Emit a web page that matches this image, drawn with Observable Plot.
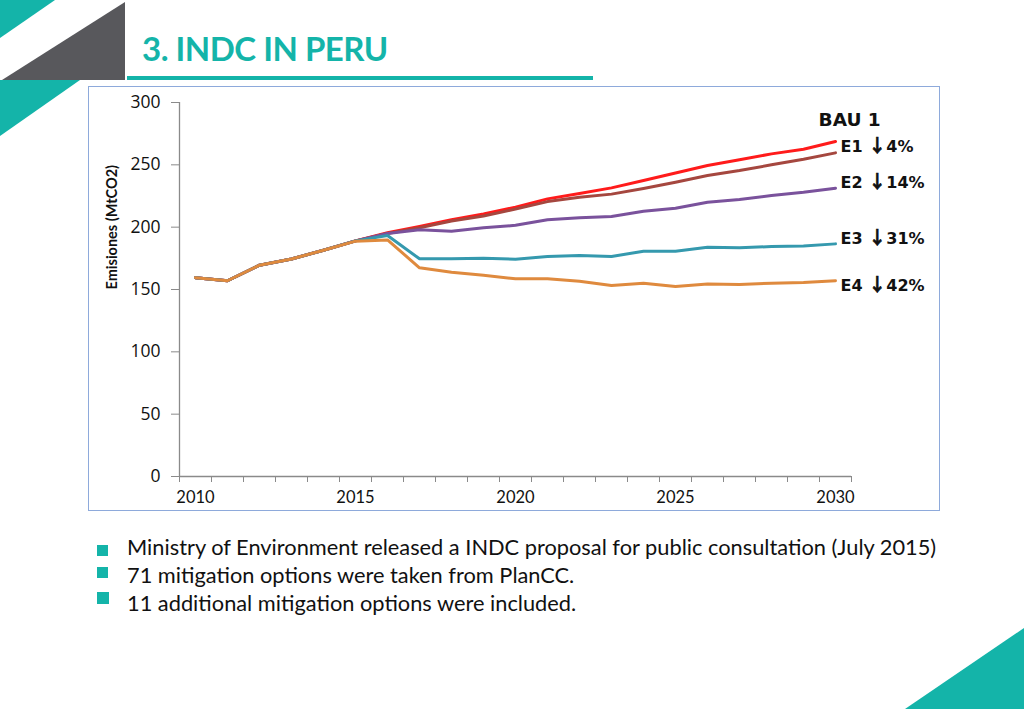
<!DOCTYPE html>
<html>
<head>
<meta charset="utf-8">
<script src="https://cdn.jsdelivr.net/npm/d3@7"></script>
<script src="https://cdn.jsdelivr.net/npm/@observablehq/plot@0.6"></script>
<style>
  html, body { margin: 0; padding: 0; background: #fff; }
  body { width: 1024px; height: 709px; position: relative; overflow: hidden; font-family: Lato, "Open Sans", sans-serif; }
  #deco { position: absolute; left: 0; top: 0; }
  #title { position: absolute; left: 142px; top: 28px; font: 700 33px Lato, sans-serif; color: #14B4A9; letter-spacing: -0.5px; white-space: nowrap; }
  #rule { position: absolute; left: 127px; top: 76px; width: 466px; height: 4px; background: #14B4A9; }
  #chart { position: absolute; left: 88px; top: 86px; width: 850px; height: 423px; border: 1.5px solid #8EAADB; }
  #chart svg { display: block; }
  .bullet { position: absolute; left: 127px; font: 400 21.8px Lato, sans-serif; color: #111; white-space: nowrap; }
  .sq { position: absolute; left: 97px; width: 11px; height: 11px; background: #14B4A9; }
</style>
</head>
<body>
<svg id="deco" width="1024" height="709">
  <polygon points="0,0 55,0 0,38" fill="#14B4A9"/>
  <polygon points="125,2 125,80 2,80" fill="#58585C"/>
  <polygon points="0,80 80,80 0,136" fill="#14B4A9"/>
  <polygon points="905,709 1024,628 1024,709" fill="#14B4A9"/>
</svg>
<div id="title">3. INDC IN PERU</div>
<div id="rule"></div>
<div id="chart"></div>
<div class="sq" style="top:545px"></div>
<div class="bullet" style="top:533px">Ministry of Environment released a INDC proposal for public consultation (July 2015)</div>
<div class="sq" style="top:567px"></div>
<div class="bullet" style="top:561px">71 mitigation options were taken from PlanCC.</div>
<div class="sq" style="top:592px;width:12px;height:12px"></div>
<div class="bullet" style="top:589px">11 additional mitigation options were included.</div>
<script>
const years = [2010,2011,2012,2013,2014,2015,2016,2017,2018,2019,2020,2021,2022,2023,2024,2025,2026,2027,2028,2029,2030];
const bau = [159.5,157,169.5,174.5,181.5,189,195.5,200.5,206,210.5,216,222.7,227,231.5,237.5,243.5,249.5,254,258.8,262.5,268.7];
const e1  = [159.5,157,169.5,174.5,181.5,189,195,199.5,205,209,214.5,220.5,224,226.5,231,236,241.4,245.4,250,254.5,259.6];
const e2  = [159.5,157,169.5,174.5,181.5,189,195,198,196.8,199.5,201.5,205.9,207.5,208.5,212.8,215.2,220,222.2,225.4,228,231.3];
const e3  = [159.5,157,169.5,174.5,181.5,189,193.3,174.6,174.6,175.1,174.3,176.5,177.3,176.5,180.7,180.7,183.9,183.4,184.5,184.8,186.6];
const e4  = [159.5,157,169.5,174.5,181.5,188.8,189.8,167.4,163.9,161.5,158.6,158.6,156.7,153.2,155.1,152.4,154.5,154,155.1,155.6,157];
const seriesNames = ["BAU 1","E1","E2","E3","E4"];
const seriesColors = ["#FF1B1B","#A5473F","#7A529C","#3599AE","#DF8A3E"];
const yTicks = [0,50,100,150,200,250,300];
const xLabelYears = [2010,2015,2020,2025,2030];
const xTickEdges = [2009.5,2010.5,2011.5,2012.5,2013.5,2014.5,2015.5,2016.5,2017.5,2018.5,2019.5,2020.5,2021.5,2022.5,2023.5,2024.5,2025.5,2026.5,2027.5,2028.5,2029.5,2030.5];
const bauLabel = ["BAU 1"];
const bauLabelYear = [2029.47];
const bauLabelValue = [285.6];
const labelTexts = ["E1 ↓4%","E2 ↓14%","E3 ↓31%","E4 ↓42%"];
const labelYears = [2030.16,2030.16,2030.16,2030.16];
const labelValues = [264.7,235.8,190.9,153.2];
const yTitle = "Emisiones (MtCO2)";

const allSeries = [bau, e1, e2, e3, e4];
const rows = [];
allSeries.forEach((vals, i) => vals.forEach((v, j) => rows.push({series: seriesNames[i], year: years[j], value: v})));
const labels = labelTexts.map((t, i) => ({text: t, year: labelYears[i], value: labelValues[i]}));
const bauLabels = bauLabel.map((t, i) => ({text: t, year: bauLabelYear[i], value: bauLabelValue[i]}));

const xDomain = [xTickEdges[0], xTickEdges[xTickEdges.length - 1]];
const yDomain = [yTicks[0], yTicks[yTicks.length - 1]];
const axisGray = "#8a8a8a";

const chart = Plot.plot({
  width: 850,
  height: 423,
  marginLeft: 90,
  marginRight: 88,
  marginTop: 15,
  marginBottom: 34,
  style: {background: "transparent", color: "#111", fontFamily: "'Open Sans', sans-serif"},
  x: {domain: xDomain, label: null},
  y: {domain: yDomain, label: null},
  color: {domain: seriesNames, range: seriesColors},
  marks: [
    Plot.ruleX([xDomain[0]], {y1: yDomain[0], y2: yDomain[1], stroke: axisGray, strokeWidth: 1.3}),
    Plot.ruleY([yDomain[0]], {x1: xDomain[0], x2: xDomain[1], stroke: axisGray, strokeWidth: 1.3}),
    Plot.axisY(yTicks, {tickSize: 8, tickFormat: () => "", stroke: axisGray, label: null}),
    Plot.axisY(yTicks, {tickSize: 0, tickPadding: 19, tickFormat: d => String(d), fontSize: 17.5, fill: "#111", label: null}),
    Plot.axisX(xTickEdges, {tickSize: 6, tickFormat: () => "", stroke: axisGray, label: null}),
    Plot.axisX(xLabelYears, {tickSize: 0, tickPadding: 15, tickFormat: d => String(d), fontSize: 16.5, fontFamily: "Lato, sans-serif", fill: "#111", label: null}),
    Plot.text([yTitle], {frameAnchor: "left", rotate: -90, dx: -67, fontSize: 14.5, fontWeight: 700, fontFamily: "Lato, sans-serif", fill: "#111"}),
    Plot.line(rows, {x: "year", y: "value", z: "series", stroke: "series", strokeWidth: 3, strokeLinejoin: "round", strokeLinecap: "round"}),
    Plot.text(bauLabels, {x: "year", y: "value", text: "text", textAnchor: "start", fontSize: 18.5, fontWeight: 700, fontFamily: "'DejaVu Sans', sans-serif", fill: "#111"}),
    Plot.text(labels, {x: "year", y: "value", text: "text", textAnchor: "start", fontSize: 16, fontWeight: 700, fontFamily: "'DejaVu Sans', sans-serif", fill: "#111", className: "elabel"})
  ]
});
// Render the down arrow in a larger, heavier glyph, as in the original slide
d3.select(chart).selectAll(".elabel text").each(function() {
  const t = this.textContent;
  const k = t.indexOf("↓");
  if (k < 0) return;
  const sel = d3.select(this);
  sel.text(null);
  sel.append("tspan").text(t.slice(0, k));
  sel.append("tspan").attr("font-family", "'Noto Sans CJK SC', sans-serif").attr("font-weight", 700).attr("font-size", 18).attr("stroke", "#111").attr("stroke-width", 0.6).text("↓");
  sel.append("tspan").text(t.slice(k + 1));
});
document.getElementById("chart").appendChild(chart);
</script>
</body>
</html>
